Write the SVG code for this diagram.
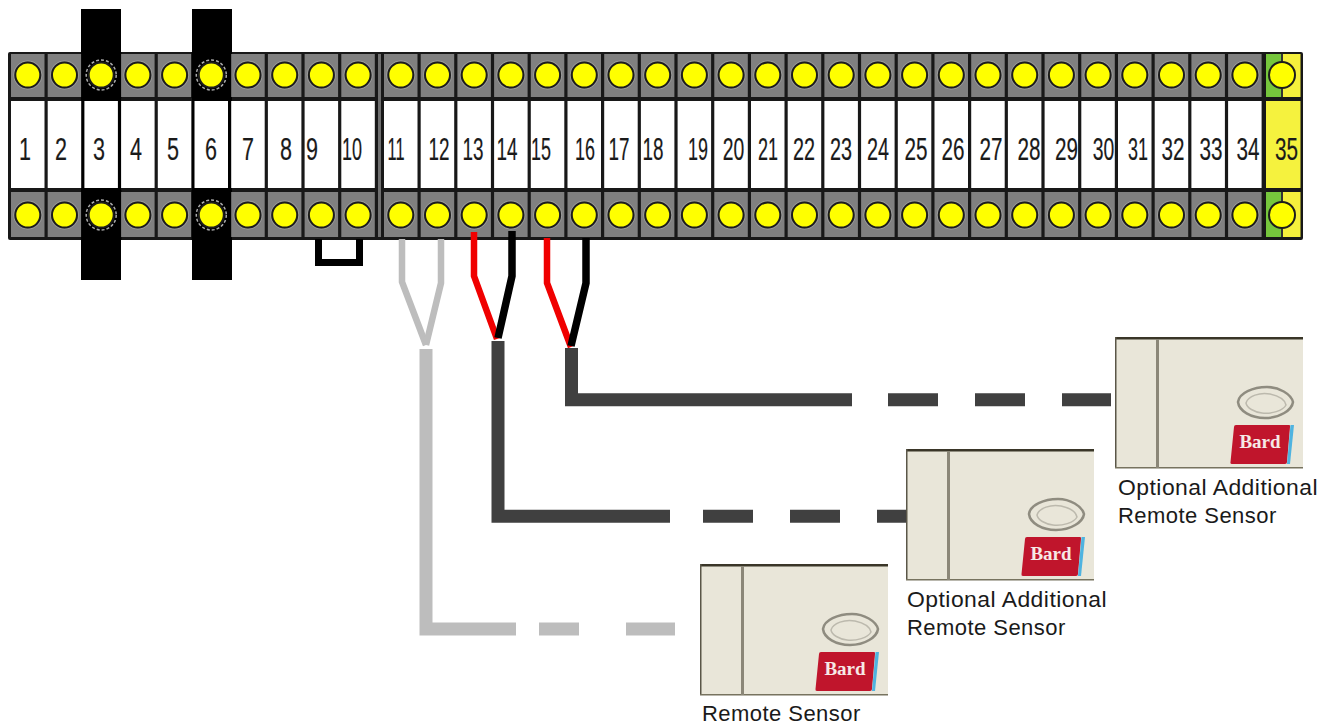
<svg xmlns="http://www.w3.org/2000/svg" width="1337" height="725" viewBox="0 0 1337 725">
<style>
.num{font-family:"Liberation Sans",Arial,sans-serif;font-size:32px;fill:#1a1a1a;stroke:#1a1a1a;stroke-width:.2;text-anchor:middle}
.cap{font-family:"Liberation Sans",Arial,sans-serif;font-size:22px;fill:#1a1a1a;letter-spacing:.45px}
.pin{fill:#ffff00;stroke:#1c1c1c;stroke-width:2}
.halo{fill:none;stroke:#9a9a9a;stroke-width:1}
.ring{fill:none;stroke:#aaa;stroke-width:1.5;stroke-dasharray:3 2}
.cell{fill:#808080}
.white{fill:#fff}
.bar{fill:#000}
.wire{fill:none;stroke-width:6.500;stroke-linejoin:miter}
.cable{fill:none;stroke-width:13}
.gray{stroke:#bdbdbd}
.dark{stroke:#404040}
.red{stroke:#f00000}
.blk{stroke:#000}
</style>
<defs>
<g id="term">
<rect class="cell" x="0" y="54" width="33.500" height="43"/>
<rect class="white" x="0" y="101" width="33.500" height="87"/>
<rect class="cell" x="0" y="192" width="33.500" height="45"/>
<circle class="halo" cx="16.800" cy="75" r="14.200"/>
<circle class="pin" cx="16.800" cy="75" r="12.500"/>
<circle class="halo" cx="16.800" cy="215" r="14.200"/>
<circle class="pin" cx="16.800" cy="215" r="12.500"/>
</g>
<g id="termShield">
<rect class="bar" x="-3" y="52" width="40" height="46"/>
<rect class="white" x="0" y="101" width="33.500" height="87"/>
<rect class="bar" x="-3" y="190" width="40" height="50"/>
<circle class="ring" cx="16.800" cy="75" r="15"/>
<circle class="pin" cx="16.800" cy="75" r="12.500"/>
<circle class="ring" cx="16.800" cy="215" r="15"/>
<circle class="pin" cx="16.800" cy="215" r="12.500"/>
</g>
<g id="sensor">
<rect x="0" y="0" width="188" height="131" fill="#e9e6d9"/>
<rect x="0" y="0" width="188" height="2.500" fill="#3a3628"/>
<rect x="0" y="0" width="1.500" height="131" fill="#5a5648"/>
<rect x="0" y="130" width="188" height="1.500" fill="#77735f"/>
<rect x="41" y="2" width="3" height="129" fill="#8b8778"/>
<path d="M123 65C124 56 138 50 152 50C164 50 176 57 178 65C177 73 165 81 150 81C136 81 124 74 123 65Z" fill="none" stroke="#8f8c80" stroke-width="2.500"/>
<path d="M131 66C133 59 145 55 155 57C164 59 170 63 171 68C168 74 156 77 147 76C139 75 132 71 131 66Z" fill="none" stroke="#bcb9ad" stroke-width="1.500"/>
<path d="M121 88H174Q175.500 88 175 90L172 125Q172 127 170 127H117Q115 127 115.500 125L119 90Q119 88 121 88Z" fill="#c0152c"/>
<path d="M175.500 88L179 88L175 127L172 127Z" fill="#4fb3e0"/>
<text x="145" y="111" font-family="'Liberation Serif',serif" font-weight="700" font-size="19" fill="#f6e9e6" text-anchor="middle">Bard</text>
</g>
</defs>

<g id="strip">
<rect x="81" y="9" width="40" height="271" fill="#000"/>
<rect x="192" y="9" width="40" height="271" fill="#000"/>
<rect x="8" y="52" width="1295" height="188" rx="2" fill="#181818"/>
<rect x="81" y="52" width="40" height="188" fill="#000"/>
<rect x="192" y="52" width="40" height="188" fill="#000"/>
<rect x="378" y="54" width="3" height="183" fill="#707070"/>
</g>

<g id="t1"><use href="#term" x="11"/><text class="num" x="25" y="160" textLength="12" lengthAdjust="spacingAndGlyphs">1</text></g>
<g id="t2"><use href="#term" x="47.700"/><text class="num" x="61" y="160" textLength="12" lengthAdjust="spacingAndGlyphs">2</text></g>
<g id="t3"><use href="#termShield" x="84.400"/><text class="num" x="99" y="160" textLength="12" lengthAdjust="spacingAndGlyphs">3</text></g>
<g id="t4"><use href="#term" x="121.100"/><text class="num" x="136" y="160" textLength="12" lengthAdjust="spacingAndGlyphs">4</text></g>
<g id="t5"><use href="#term" x="157.800"/><text class="num" x="173" y="160" textLength="12" lengthAdjust="spacingAndGlyphs">5</text></g>
<g id="t6"><use href="#termShield" x="194.500"/><text class="num" x="211" y="160" textLength="12" lengthAdjust="spacingAndGlyphs">6</text></g>
<g id="t7"><use href="#term" x="231.200"/><text class="num" x="248" y="160" textLength="12" lengthAdjust="spacingAndGlyphs">7</text></g>
<g id="t8"><use href="#term" x="267.900"/><text class="num" x="286" y="160" textLength="12" lengthAdjust="spacingAndGlyphs">8</text></g>
<g id="t9"><use href="#term" x="304.600"/><text class="num" x="312" y="160" textLength="12" lengthAdjust="spacingAndGlyphs">9</text></g>
<g id="t10"><use href="#term" x="341.300"/><text class="num" x="352" y="160" textLength="20" lengthAdjust="spacingAndGlyphs">10</text></g>
<g id="t11"><use href="#term" x="384"/><text class="num" x="396" y="160" textLength="17" lengthAdjust="spacingAndGlyphs">11</text></g>
<g id="t12"><use href="#term" x="420.700"/><text class="num" x="439" y="160" textLength="21" lengthAdjust="spacingAndGlyphs">12</text></g>
<g id="t13"><use href="#term" x="457.400"/><text class="num" x="473" y="160" textLength="21" lengthAdjust="spacingAndGlyphs">13</text></g>
<g id="t14"><use href="#term" x="494.100"/><text class="num" x="507" y="160" textLength="21" lengthAdjust="spacingAndGlyphs">14</text></g>
<g id="t15"><use href="#term" x="530.800"/><text class="num" x="541" y="160" textLength="20" lengthAdjust="spacingAndGlyphs">15</text></g>
<g id="t16"><use href="#term" x="567.500"/><text class="num" x="585" y="160" textLength="20" lengthAdjust="spacingAndGlyphs">16</text></g>
<g id="t17"><use href="#term" x="604.200"/><text class="num" x="619" y="160" textLength="21" lengthAdjust="spacingAndGlyphs">17</text></g>
<g id="t18"><use href="#term" x="640.900"/><text class="num" x="653" y="160" textLength="21" lengthAdjust="spacingAndGlyphs">18</text></g>
<g id="t19"><use href="#term" x="677.600"/><text class="num" x="698" y="160" textLength="20" lengthAdjust="spacingAndGlyphs">19</text></g>
<g id="t20"><use href="#term" x="714.300"/><text class="num" x="733.500" y="160" textLength="21.500" lengthAdjust="spacingAndGlyphs">20</text></g>
<g id="t21"><use href="#term" x="751"/><text class="num" x="768" y="160" textLength="20" lengthAdjust="spacingAndGlyphs">21</text></g>
<g id="t22"><use href="#term" x="787.700"/><text class="num" x="804" y="160" textLength="22" lengthAdjust="spacingAndGlyphs">22</text></g>
<g id="t23"><use href="#term" x="824.400"/><text class="num" x="841" y="160" textLength="22" lengthAdjust="spacingAndGlyphs">23</text></g>
<g id="t24"><use href="#term" x="861.100"/><text class="num" x="878" y="160" textLength="22" lengthAdjust="spacingAndGlyphs">24</text></g>
<g id="t25"><use href="#term" x="897.800"/><text class="num" x="916" y="160" textLength="23" lengthAdjust="spacingAndGlyphs">25</text></g>
<g id="t26"><use href="#term" x="934.500"/><text class="num" x="953" y="160" textLength="23" lengthAdjust="spacingAndGlyphs">26</text></g>
<g id="t27"><use href="#term" x="971.200"/><text class="num" x="991" y="160" textLength="23" lengthAdjust="spacingAndGlyphs">27</text></g>
<g id="t28"><use href="#term" x="1007.900"/><text class="num" x="1029" y="160" textLength="23" lengthAdjust="spacingAndGlyphs">28</text></g>
<g id="t29"><use href="#term" x="1044.600"/><text class="num" x="1066.500" y="160" textLength="23" lengthAdjust="spacingAndGlyphs">29</text></g>
<g id="t30"><use href="#term" x="1081.300"/><text class="num" x="1103.500" y="160" textLength="21.500" lengthAdjust="spacingAndGlyphs">30</text></g>
<g id="t31"><use href="#term" x="1118"/><text class="num" x="1138" y="160" textLength="20" lengthAdjust="spacingAndGlyphs">31</text></g>
<g id="t32"><use href="#term" x="1154.700"/><text class="num" x="1173" y="160" textLength="23" lengthAdjust="spacingAndGlyphs">32</text></g>
<g id="t33"><use href="#term" x="1191.400"/><text class="num" x="1211" y="160" textLength="23" lengthAdjust="spacingAndGlyphs">33</text></g>
<g id="t34"><use href="#term" x="1228.100"/><text class="num" x="1248" y="160" textLength="23" lengthAdjust="spacingAndGlyphs">34</text></g>
<g id="t35">
<rect x="1266" y="54" width="15" height="43" fill="#76c63c"/>
<rect x="1281" y="54" width="19.500" height="43" fill="#f5f03c"/>
<rect x="1266" y="101" width="34.500" height="87" fill="#f5f23e"/>
<rect x="1266" y="192" width="15" height="45" fill="#76c63c"/>
<rect x="1281" y="192" width="19.500" height="45" fill="#f5f03c"/>
<rect x="1281" y="54" width="2" height="43" fill="#333"/>
<rect x="1281" y="192" width="2" height="45" fill="#333"/>
<circle class="pin" cx="1282" cy="75" r="13"/>
<circle class="pin" cx="1282" cy="215" r="13"/>
<text class="num" x="1286.500" y="160" textLength="23" lengthAdjust="spacingAndGlyphs">35</text>
</g>

<g id="connectors">
<path class="wire blk" d="M318.500 239V262.500H359.500V239" style="stroke-width:7"/>
<path class="wire gray" d="M402 239V282L426 345"/>
<path class="wire gray" d="M441 239V283L426 345"/>
<path class="wire red" d="M474 232V276L497 339"/>
<path class="wire blk" d="M512 231V276L498 338" style="stroke-width:7.500"/>
<path class="wire red" d="M547 238V283L571 347"/>
<path class="wire blk" d="M586 238V283L571 346" style="stroke-width:7.500"/>
<path class="cable gray" d="M426 349V629H516M539 629H579M626 629H675"/>
<path class="cable dark" d="M498 341V516.300H670M703 516.300H753M790 516.300H840M877 516.300H906"/>
<path class="cable dark" d="M571.500 348V399.800H852M888 399.800H938M975 399.800H1025M1062 399.800H1111"/>
</g>

<g id="sensor-a"><use href="#sensor" x="1115" y="337"/>
<text class="cap" x="1118" y="495" textLength="200" lengthAdjust="spacingAndGlyphs">Optional Additional</text>
<text class="cap" x="1118" y="523">Remote Sensor</text></g>
<g id="sensor-b"><use href="#sensor" x="906" y="449"/>
<text class="cap" x="907" y="607" textLength="200" lengthAdjust="spacingAndGlyphs">Optional Additional</text>
<text class="cap" x="907" y="635">Remote Sensor</text></g>
<g id="sensor-c"><use href="#sensor" x="700" y="564"/>
<text class="cap" x="702" y="721">Remote Sensor</text></g>
</svg>
